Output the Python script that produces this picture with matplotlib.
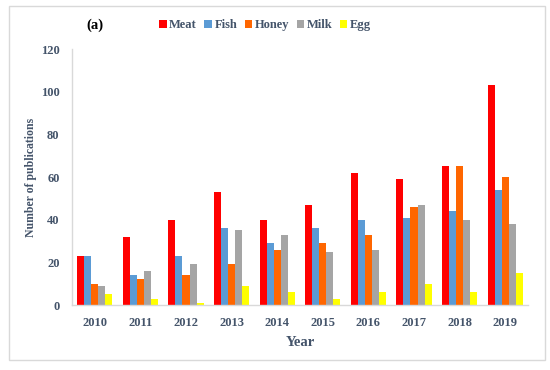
import numpy as np
import matplotlib
matplotlib.use('Agg')
import matplotlib.pyplot as plt
from matplotlib.patches import Rectangle

years = ['2010', '2011', '2012', '2013', '2014', '2015', '2016', '2017', '2018', '2019']
meat = [23, 32, 40, 53, 40, 47, 62, 59, 65, 103]
fish = [23, 14, 23, 36, 29, 36, 40, 41, 44, 54]
honey = [10, 12, 14, 19, 26, 29, 33, 46, 65, 60]
milk = [9, 16, 19, 35, 33, 25, 26, 47, 40, 38]
egg = [5, 3, 1, 9, 6, 3, 6, 10, 6, 15]

series = [('Meat', meat, '#FF0000'), ('Fish', fish, '#5B9BD5'),
          ('Honey', honey, '#FF6600'), ('Milk', milk, '#A5A5A5'),
          ('Egg', egg, '#FFFF00')]

text_color = '#44546A'
plt.rcParams['font.family'] = ['Liberation Serif', 'DejaVu Serif']

fig = plt.figure(figsize=(5.5, 3.7), dpi=100)
ax = fig.add_axes([72 / 550, 1 - 305 / 370, 456 / 550, 256 / 370])

# outer frame
fig.patches.append(Rectangle((9 / 550, 1 - 360 / 370), 536 / 550, 354 / 370,
                             transform=fig.transFigure, fill=False,
                             edgecolor='#D9D9D9', linewidth=1))

x = np.arange(len(years))
w = 0.155
for i, (name, vals, color) in enumerate(series):
    ax.bar(x + (i - 2) * w, vals, w, color=color, label=name)

ax.set_xlim(-0.5, len(years) - 0.5)
ax.set_ylim(0, 120)
ax.set_yticks(range(0, 121, 20))
ax.set_xticks(x)
ax.set_xticklabels(years)
ax.tick_params(length=0, labelsize=9, labelcolor=text_color, pad=9)
for lbl in ax.get_xticklabels() + ax.get_yticklabels():
    lbl.set_fontweight('bold')

for side in ['top', 'right']:
    ax.spines[side].set_visible(False)
for side in ['left', 'bottom']:
    ax.spines[side].set_color('#D9D9D9')
    ax.spines[side].set_linewidth(1)

ax.set_xlabel('Year', fontsize=10.5, fontweight='bold', color=text_color, labelpad=5)
ax.set_ylabel('Number of publications', fontsize=8.5, fontweight='bold', color=text_color, labelpad=3)

leg = fig.legend(loc='center', bbox_to_anchor=(265 / 550, 1 - 25 / 370), ncol=5,
                 frameon=False, handlelength=0.6, handleheight=0.6,
                 handletextpad=0.2, columnspacing=0.6,
                 prop={'size': 9, 'weight': 'bold'})
for t in leg.get_texts():
    t.set_color(text_color)

fig.text(95 / 550, 1 - 25 / 370, '(a)', fontsize=10.5, fontweight='bold',
         color='black', va='center', ha='center')

fig.savefig('out.png', dpi=100)
